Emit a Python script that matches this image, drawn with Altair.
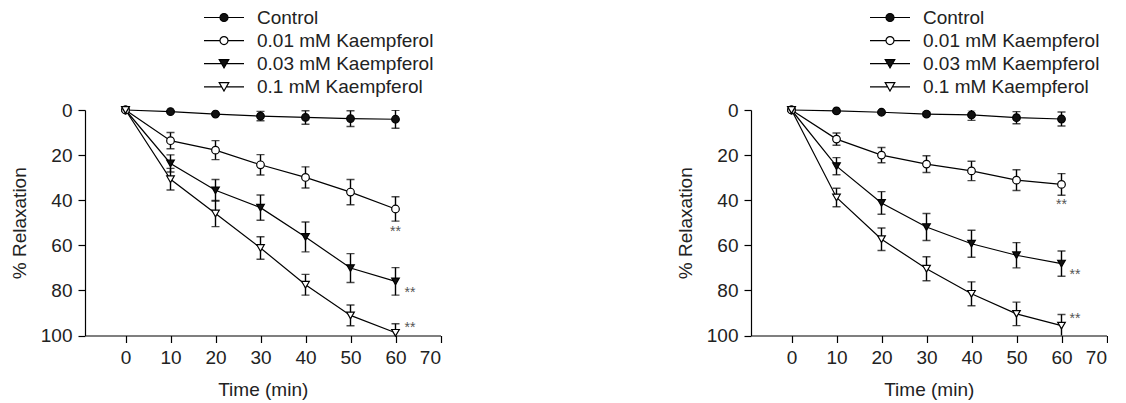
import altair as alt
import pandas as pd

FONT = "Liberation Sans"
TXT = "#222222"

times = [0, 10, 20, 30, 40, 50, 60]
series = ["Control", "0.01 mM Kaempferol", "0.03 mM Kaempferol", "0.1 mM Kaempferol"]

# Left panel (means, SEM)
ctrl_a = [0, 0.7, 1.8, 2.7, 3.3, 3.8, 4.1]
ctrl_a_err = [0, 0.5, 0.5, 2.1, 3.0, 3.5, 4.0]
k001_a = [0, 13.6, 17.8, 24.3, 29.9, 36.4, 43.9]
k001_a_err = [0, 3.6, 4.2, 4.5, 4.7, 5.6, 5.4]
k003_a = [0, 23.7, 35.6, 43.3, 56.3, 70.1, 76.0]
k003_a_err = [0, 3.8, 4.8, 5.6, 6.6, 6.4, 6.1]
k01_a = [0, 30.7, 45.9, 61.2, 77.5, 91.1, 98.8]
k01_a_err = [0, 4.8, 5.8, 5.0, 4.6, 4.6, 4.0]

# Right panel (means, SEM)
ctrl_b = [0, 0.4, 1.0, 1.8, 2.2, 3.4, 4.0]
ctrl_b_err = [0, 0.5, 0.5, 0.8, 2.4, 2.7, 3.1]
k001_b = [0, 12.9, 20.0, 24.0, 27.0, 31.1, 33.0]
k001_b_err = [0, 2.7, 3.4, 3.7, 4.3, 4.6, 4.8]
k003_b = [0, 24.9, 41.2, 51.9, 59.3, 64.4, 68.1]
k003_b_err = [0, 3.8, 5.0, 6.0, 6.0, 5.6, 5.6]
k01_b = [0, 38.8, 57.3, 70.4, 81.5, 90.4, 95.6]
k01_b_err = [0, 4.1, 5.0, 5.3, 5.3, 5.2, 4.9]

# significance marks: x, y (data units)
stars_a_x = [60, 63.2, 63.2]
stars_a_y = [53.3, 80.4, 96.0]
stars_b_x = [60, 63.0, 63.0]
stars_b_y = [41.5, 72.6, 92.0]

x_ticks = [0, 10, 20, 30, 40, 50, 60, 70]
y_ticks = [0, 20, 40, 60, 80, 100]

shapes = ["circle", "circle", "triangle-down", "triangle-down"]
fills = ["#111111", "white", "#111111", "white"]
strokes = ["black", "black", "black", "black"]
sizes = [58, 58, 72, 72]
legend_paths = [
    "M-5,0H-1M1,0H5M1,0A1,1 0 1,1 -1,0A1,1 0 1,1 1,0Z",
    "M-5,0H-1M1,0H5M1,0A1,1 0 1,1 -1,0A1,1 0 1,1 1,0Z",
    "M-5,0H-0.6M0.6,0H5M0,1.04L1.2,-1.04L-1.2,-1.04Z",
    "M-5,0H-0.6M0.6,0H5M0,1.04L1.2,-1.04L-1.2,-1.04Z",
]


def make_df(groups):
    rows = []
    for name, (m, e) in zip(series, groups):
        for t, v, s in zip(times, m, e):
            rows.append({"series": name, "time": t, "value": v,
                         "lo": v - s, "hi": v + s, "err": s})
    return pd.DataFrame(rows)


W = 355.5
H = 225.5


def xs():
    return alt.Scale(domain=[-9, 70], nice=False, zero=False)


def ys():
    return alt.Scale(domain=[0, 100], reverse=True, nice=False, zero=False)


x_axis = alt.Axis(values=x_ticks, title="Time (min)", grid=False, titlePadding=13)
y_axis = alt.Axis(values=y_ticks, title="% Relaxation", grid=False, titlePadding=11)


def panel(df, sx, sy):
    base = alt.Chart(df)
    X = alt.X("time:Q", scale=xs(), axis=x_axis)
    Y = alt.Y("value:Q", scale=ys(), axis=y_axis)

    lines = base.mark_line(color="black", strokeWidth=1.2).encode(
        x=X, y=Y, detail="series:N")

    bars_df = base.transform_filter("datum.err > 0")
    rules = bars_df.mark_rule(color="black", strokeWidth=1.4, clip=True).encode(
        x=alt.X("time:Q", scale=xs()), y=alt.Y("lo:Q", scale=ys()), y2="hi:Q")
    cap_lo = bars_df.mark_tick(color="black", thickness=1.4, size=8,
                               orient="horizontal", clip=True).encode(
        x=alt.X("time:Q", scale=xs()), y=alt.Y("lo:Q", scale=ys()))
    cap_hi = bars_df.mark_tick(color="black", thickness=1.4, size=8,
                               orient="horizontal", clip=True).encode(
        x=alt.X("time:Q", scale=xs()), y=alt.Y("hi:Q", scale=ys()))

    pts = base.mark_point(filled=True, stroke="black", strokeWidth=1.2,
                          opacity=1).encode(
        x=X, y=Y,
        shape=alt.Shape("series:N", scale=alt.Scale(domain=series, range=shapes), legend=None),
        fill=alt.Fill("series:N", scale=alt.Scale(domain=series, range=fills), legend=None),
        size=alt.Size("series:N", scale=alt.Scale(domain=series, range=sizes), legend=None),
    )

    leg = alt.Legend(orient="none", legendX=129.5, legendY=-102, title=None,
                     labelFont=FONT, labelFontSize=19, labelColor=TXT, labelLimit=400,
                     symbolSize=64, symbolStrokeColor="black", symbolStrokeWidth=1.2,
                     rowPadding=3.1, labelOffset=23.5, symbolOpacity=1)
    legend_layer = base.transform_filter("false").mark_point(
        filled=True, strokeWidth=1.2, opacity=1).encode(
        shape=alt.Shape("series:N", scale=alt.Scale(domain=series, range=legend_paths), legend=leg),
        fill=alt.Fill("series:N", scale=alt.Scale(domain=series, range=fills), legend=leg),
        stroke=alt.Stroke("series:N", scale=alt.Scale(domain=series, range=strokes), legend=leg),
    )

    sdf = pd.DataFrame({"x": sx, "y": sy, "t": ["**"] * len(sx)})
    stars = alt.Chart(sdf).mark_text(font=FONT, fontSize=14, color="#555555",
                                     align="center", baseline="middle", dy=1.5).encode(
        x=alt.X("x:Q", scale=xs()), y=alt.Y("y:Q", scale=ys()), text="t:N")

    return alt.layer(lines, rules, cap_lo, cap_hi, pts, stars, legend_layer).resolve_scale(
        shape="independent", fill="independent", size="independent", stroke="independent"
    ).properties(width=W, height=H)


df_a = make_df([(ctrl_a, ctrl_a_err), (k001_a, k001_a_err), (k003_a, k003_a_err), (k01_a, k01_a_err)])
df_b = make_df([(ctrl_b, ctrl_b_err), (k001_b, k001_b_err), (k003_b, k003_b_err), (k01_b, k01_b_err)])

left = panel(df_a, stars_a_x, stars_a_y)
right = panel(df_b, stars_b_x, stars_b_y)

chart = alt.hconcat(left, right, spacing=234).resolve_scale(
    shape="independent", fill="independent", size="independent", stroke="independent"
).resolve_legend(shape="independent", fill="independent", size="independent",
                 stroke="independent").properties(
    padding={"left": 2, "top": 0, "right": 0, "bottom": 0}
).configure_view(stroke=None).configure_axis(
    domainColor="black", domainWidth=1.2, tickColor="black", tickWidth=1.2, tickSize=7,
    labelFont=FONT, labelFontSize=19, labelColor=TXT, labelPadding=6,
    titleFont=FONT, titleFontSize=19, titleColor=TXT, titleFontWeight="normal",
)

chart.save("out.html", embed_options={"renderer": "svg", "actions": False})
